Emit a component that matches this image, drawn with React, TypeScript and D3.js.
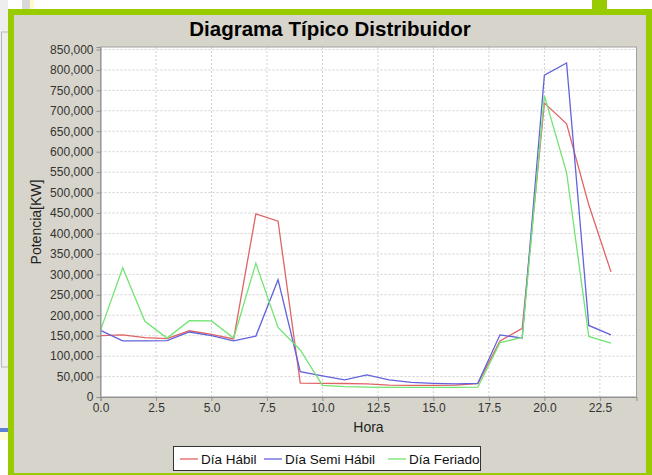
import React, { useEffect, useRef } from "react";
import * as d3 from "d3";

// horas del día
const horas = [0, 1, 2, 3, 4, 5, 6, 7, 8, 9, 10, 11, 12, 13, 14, 15, 16, 17, 18, 19, 20, 21, 22, 23];

// potencia [KW] por hora
const diaHabil = [
  150000, 152000, 145000, 143000, 162000, 153000, 142000, 448000, 430000, 34000, 33500, 33000,
  32000, 29000, 28500, 28500, 29000, 33000, 137000, 168000, 719000, 668000, 470000, 306000,
];
const diaSemiHabil = [
  163000, 137500, 137500, 138000, 159000, 150000, 137500, 149000, 287000, 62000, 51500, 42000,
  54000, 42000, 36000, 33500, 32000, 33500, 152000, 144000, 787000, 817000, 175000, 152000,
];
const diaFeriado = [
  163000, 316000, 185000, 144000, 186500, 186000, 144000, 327000, 170000, 115000, 28500, 25500,
  24000, 23500, 23500, 23500, 23500, 24000, 133000, 145500, 737000, 549000, 148000, 132000,
];

const series = [
  { nombre: "Día Hábil", valores: diaHabil, color: "#e06464" },
  { nombre: "Día Semi Hábil", valores: diaSemiHabil, color: "#6262dc" },
  { nombre: "Día Feriado", valores: diaFeriado, color: "#72e472" },
];

const xTicks = [0, 2.5, 5, 7.5, 10, 12.5, 15, 17.5, 20, 22.5];
const yTicks = [
  0, 50000, 100000, 150000, 200000, 250000, 300000, 350000, 400000, 450000, 500000, 550000,
  600000, 650000, 700000, 750000, 800000, 850000,
];

const FONT = "'Liberation Sans', Arial, sans-serif";

export default function App() {
  const svgRef = useRef<SVGSVGElement>(null);

  useEffect(() => {
    const width = 652;
    const height = 475;
    const svg = d3.select(svgRef.current).attr("width", width).attr("height", height);
    svg.selectAll("*").remove();

    // marco exterior de la página
    svg.append("rect").attr("width", width).attr("height", height).attr("fill", "#ffffff");
    svg.append("rect").attr("x", 0).attr("y", 0).attr("width", 8).attr("height", 430).attr("fill", "#eeeeee");
    svg.append("rect").attr("x", 1.5).attr("y", 32).attr("width", 8).attr("height", 335)
      .attr("fill", "none").attr("stroke", "#b8b8b8");
    svg.append("rect").attr("x", 0).attr("y", 428).attr("width", 8).attr("height", 4).attr("fill", "#5b80d6");
    svg.append("rect").attr("x", 0).attr("y", 432).attr("width", 8).attr("height", 8).attr("fill", "#fdfbd8");
    svg.append("rect").attr("x", 22).attr("y", 0).attr("width", 8).attr("height", 9).attr("fill", "#d8d8d8");
    svg.append("rect").attr("x", 30).attr("y", 0).attr("width", 4).attr("height", 9).attr("fill", "#fdfbc8");
    svg.append("rect").attr("x", 592).attr("y", 0).attr("width", 15).attr("height", 10).attr("fill", "#99cc00");
    svg.append("rect").attr("x", 8).attr("y", 9).attr("width", 644).attr("height", 466).attr("fill", "#99cc00");
    svg.append("rect").attr("x", 14).attr("y", 15).attr("width", 632).attr("height", 458).attr("fill", "#d7d5cb");

    const left = 100.5;
    const right = 636.5;
    const top = 47;
    const bottom = 397;

    const x = d3.scaleLinear().domain([0, 24.15]).range([left, right]);
    const y = d3.scaleLinear().domain([0, 856000]).range([bottom, top]);

    // título
    svg.append("text")
      .attr("x", 330).attr("y", 35.5)
      .attr("text-anchor", "middle")
      .style("font-family", FONT).style("font-size", "20.5px").style("font-weight", "bold")
      .attr("fill", "#000")
      .text("Diagrama Típico Distribuidor");

    // área de gráfico
    svg.append("rect")
      .attr("x", left).attr("y", top).attr("width", right - left).attr("height", bottom - top)
      .attr("fill", "#ffffff");

    const grid = svg.append("g");
    grid.selectAll(".gx").data(xTicks).enter().append("line")
      .attr("x1", (d) => x(d)).attr("x2", (d) => x(d))
      .attr("y1", top).attr("y2", bottom)
      .attr("stroke", "#d0d0d0").attr("stroke-dasharray", "2,2").attr("stroke-width", 1);
    grid.selectAll(".gy").data(yTicks).enter().append("line")
      .attr("x1", left).attr("x2", right)
      .attr("y1", (d) => y(d)).attr("y2", (d) => y(d))
      .attr("stroke", "#d0d0d0").attr("stroke-dasharray", "2,2").attr("stroke-width", 1);

    // líneas
    const line = d3.line<number>()
      .x((_, i) => x(horas[i]))
      .y((d) => y(d));

    series.forEach((s) => {
      svg.append("path")
        .datum(s.valores)
        .attr("d", line)
        .attr("fill", "none")
        .attr("stroke", s.color)
        .attr("stroke-width", 1.3);
    });

    svg.append("rect")
      .attr("x", left).attr("y", top).attr("width", right - left).attr("height", bottom - top)
      .attr("fill", "none").attr("stroke", "#a0a0a0");

    // eje Y
    const yAxis = svg.append("g").attr("transform", `translate(${left},0)`)
      .call(d3.axisLeft(y).tickValues(yTicks).tickFormat(d3.format(",")).tickSize(4).tickPadding(3));
    yAxis.select(".domain").attr("stroke", "#909090");
    yAxis.selectAll(".tick line").attr("stroke", "#909090");
    yAxis.selectAll("text").style("font-family", FONT).style("font-size", "12px").attr("fill", "#333");

    // eje X
    const xAxis = svg.append("g").attr("transform", `translate(0,${bottom})`)
      .call(d3.axisBottom(x).tickValues(xTicks).tickFormat(d3.format(".1f")).tickSize(4).tickPadding(2));
    xAxis.select(".domain").attr("stroke", "#909090");
    xAxis.selectAll(".tick line").attr("stroke", "#909090");
    xAxis.selectAll("text").style("font-family", FONT).style("font-size", "12px").attr("fill", "#333");

    svg.append("text")
      .attr("x", (left + right) / 2).attr("y", 432)
      .attr("text-anchor", "middle")
      .style("font-family", FONT).style("font-size", "14px")
      .attr("fill", "#222")
      .text("Hora");

    svg.append("text")
      .attr("transform", `translate(41,${(top + bottom) / 2}) rotate(-90)`)
      .attr("text-anchor", "middle")
      .style("font-family", FONT).style("font-size", "14px")
      .attr("fill", "#222")
      .text("Potencia[KW]");

    // leyenda
    const legend = svg.append("g");
    legend.append("rect")
      .attr("x", 173.5).attr("y", 446.5).attr("width", 307).attr("height", 24)
      .attr("fill", "#ffffff").attr("stroke", "#333").attr("stroke-width", 1);
    const posiciones = [180, 264, 388];
    series.forEach((s, i) => {
      const g = legend.append("g").attr("transform", `translate(${posiciones[i]},0)`);
      g.append("line").attr("x1", 0).attr("x2", 18).attr("y1", 459).attr("y2", 459)
        .attr("stroke", s.color).attr("stroke-width", 1.3);
      g.append("text").attr("x", 21).attr("y", 463.5)
        .style("font-family", FONT).style("font-size", "13.5px").attr("fill", "#111")
        .text(s.nombre);
    });
  }, []);

  return (
    <svg ref={svgRef} style={{ position: "absolute", left: 0, top: 0, display: "block" }}></svg>
  );
}
